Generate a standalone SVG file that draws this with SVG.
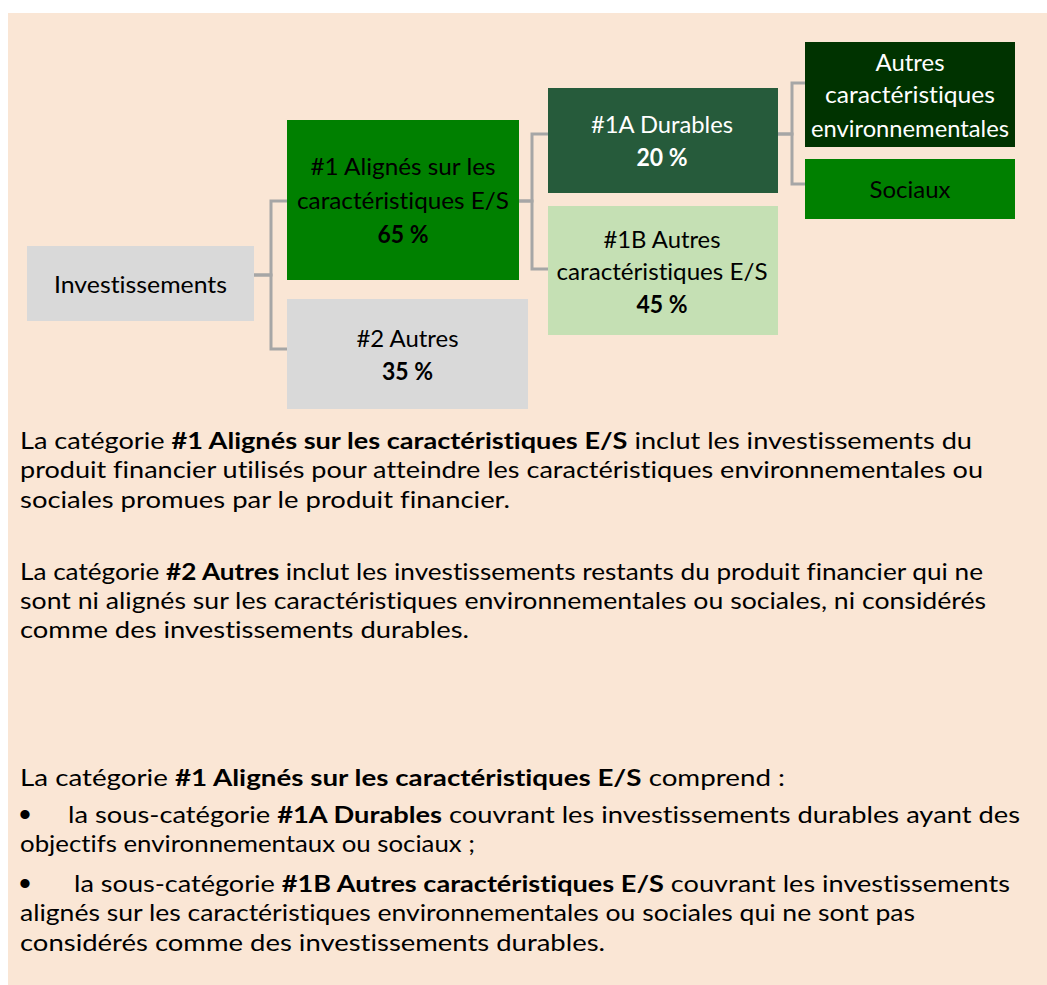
<svg xmlns="http://www.w3.org/2000/svg" width="1047" height="985" viewBox="0 0 1047 985">
<style>
  text { font-variant-ligatures: none; }
  .bt { font-family: Lato, "Open Sans", "Liberation Sans", sans-serif; font-size: 24px; text-anchor: middle; }
  .body { font-family: Lato, "Open Sans", "Liberation Sans", sans-serif; font-size: 23px; fill: #000; }
  .b { font-weight: bold; }
  .w { fill: #ffffff; }
  .k { fill: #000000; }
  .bul { font-family: "Liberation Sans", sans-serif; font-size: 34px; fill: #000; }
  .conn { fill: none; stroke: #A6A6A6; stroke-width: 3; }
</style>
<rect x="0" y="0" width="1047" height="985" fill="#ffffff"/>
<rect x="8" y="13" width="1039" height="972" fill="#FAE6D5"/>

<g id="connectors">
  <path class="conn" d="M254 275 H271 V201 H287"/>
  <path class="conn" d="M254 275 H271 V349 H287"/>
  <path class="conn" d="M519 201 H532 V134 H548"/>
  <path class="conn" d="M519 201 H532 V269 H548"/>
  <path class="conn" d="M778 134 H792 V83 H805"/>
  <path class="conn" d="M778 134 H792 V184 H805"/>
</g>

<g id="node-investissements">
  <rect x="27" y="246" width="227" height="75" fill="#D9D9D9"/>
  <text class="bt k" x="140.5" y="293" textLength="173" lengthAdjust="spacingAndGlyphs">Investissements</text>
</g>

<g id="node-1">
  <rect x="287" y="120" width="232" height="160" fill="#008000"/>
  <text class="bt k" x="403" y="175" textLength="185" lengthAdjust="spacingAndGlyphs">#1 Alignés sur les</text>
  <text class="bt k" x="403" y="209" textLength="212" lengthAdjust="spacingAndGlyphs">caractéristiques E/S</text>
  <text class="bt k b" x="403" y="243" textLength="51" lengthAdjust="spacingAndGlyphs">65 %</text>
</g>

<g id="node-2">
  <rect x="287" y="299" width="241" height="110" fill="#D9D9D9"/>
  <text class="bt k" x="407.5" y="347" textLength="102" lengthAdjust="spacingAndGlyphs">#2 Autres</text>
  <text class="bt k b" x="407.5" y="380" textLength="51" lengthAdjust="spacingAndGlyphs">35 %</text>
</g>

<g id="node-1a">
  <rect x="548" y="88" width="230" height="105" fill="#265B3B"/>
  <text class="bt w" x="662" y="133" textLength="142" lengthAdjust="spacingAndGlyphs">#1A Durables</text>
  <text class="bt w b" x="662" y="166" textLength="51" lengthAdjust="spacingAndGlyphs">20 %</text>
</g>

<g id="node-1b">
  <rect x="548" y="206" width="230" height="129" fill="#C5E0B4"/>
  <text class="bt k" x="662" y="248" textLength="117" lengthAdjust="spacingAndGlyphs">#1B Autres</text>
  <text class="bt k" x="662" y="280" textLength="211" lengthAdjust="spacingAndGlyphs">caractéristiques E/S</text>
  <text class="bt k b" x="662" y="313" textLength="51" lengthAdjust="spacingAndGlyphs">45 %</text>
</g>

<g id="node-autres-env">
  <rect x="805" y="42" width="210" height="105" fill="#003300"/>
  <text class="bt w" x="910" y="71" textLength="69" lengthAdjust="spacingAndGlyphs">Autres</text>
  <text class="bt w" x="910" y="103" textLength="170" lengthAdjust="spacingAndGlyphs">caractéristiques</text>
  <text class="bt w" x="910" y="137" textLength="198" lengthAdjust="spacingAndGlyphs">environnementales</text>
</g>

<g id="node-sociaux">
  <rect x="805" y="159" width="210" height="60" fill="#008000"/>
  <text class="bt k" x="910" y="198" textLength="81" lengthAdjust="spacingAndGlyphs">Sociaux</text>
</g>

<g id="text-block">
  <text class="body" x="20" y="449" textLength="952" lengthAdjust="spacingAndGlyphs">La catégorie <tspan class="b">#1 Alignés sur les caractéristiques E/S</tspan> inclut les investissements du</text>
  <text class="body" x="20" y="478" textLength="963" lengthAdjust="spacingAndGlyphs">produit financier utilisés pour atteindre les caractéristiques environnementales ou</text>
  <text class="body" x="20" y="508" textLength="490" lengthAdjust="spacingAndGlyphs">sociales promues par le produit financier.</text>

  <text class="body" x="20" y="580" textLength="963" lengthAdjust="spacingAndGlyphs">La catégorie <tspan class="b">#2 Autres</tspan> inclut les investissements restants du produit financier qui ne</text>
  <text class="body" x="20" y="609" textLength="966" lengthAdjust="spacingAndGlyphs">sont ni alignés sur les caractéristiques environnementales ou sociales, ni considérés</text>
  <text class="body" x="20" y="638" textLength="449" lengthAdjust="spacingAndGlyphs">comme des investissements durables.</text>

  <text class="body" x="20" y="786" textLength="765" lengthAdjust="spacingAndGlyphs">La catégorie <tspan class="b">#1 Alignés sur les caractéristiques E/S</tspan> comprend :</text>
  <text class="bul" x="19" y="826">•</text>
  <text class="body" x="68" y="823" textLength="952" lengthAdjust="spacingAndGlyphs">la sous-catégorie <tspan class="b">#1A Durables</tspan> couvrant les investissements durables ayant des</text>
  <text class="body" x="20" y="852" textLength="455" lengthAdjust="spacingAndGlyphs">objectifs environnementaux ou sociaux ;</text>
  <text class="bul" x="19" y="895">•</text>
  <text class="body" x="74" y="892" textLength="936" lengthAdjust="spacingAndGlyphs">la sous-catégorie <tspan class="b">#1B Autres caractéristiques E/S</tspan> couvrant les investissements</text>
  <text class="body" x="20" y="921" textLength="895" lengthAdjust="spacingAndGlyphs">alignés sur les caractéristiques environnementales ou sociales qui ne sont pas</text>
  <text class="body" x="20" y="951" textLength="585" lengthAdjust="spacingAndGlyphs">considérés comme des investissements durables.</text>
</g>
</svg>
